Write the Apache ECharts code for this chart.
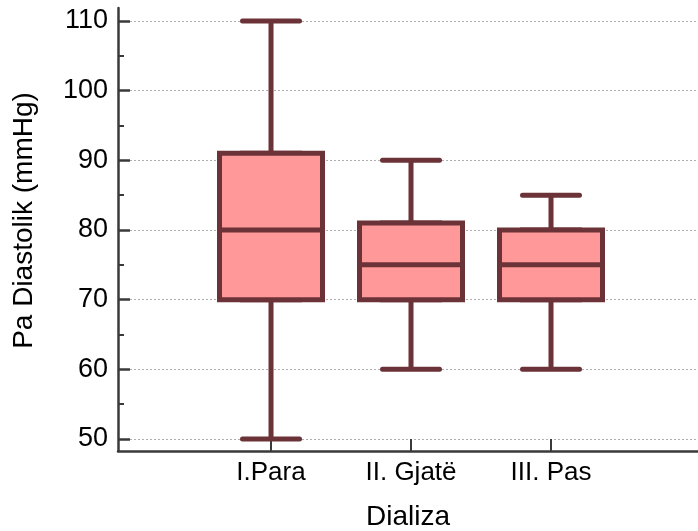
<!DOCTYPE html>
<html>
<head>
<meta charset="utf-8">
<script src="https://cdn.jsdelivr.net/npm/echarts@6/dist/echarts.min.js"></script>
<style>html,body{margin:0;padding:0;background:#fff;}#c{width:698px;height:531px;}</style>
</head>
<body>
<div id="c"></div>
<script>
var categories = ['I.Para', 'II. Gjatë', 'III. Pas'];
var positions = [1, 2, 3];
var mins = [50, 60, 60];
var q1s = [70, 70, 70];
var medians = [80, 75, 75];
var q3s = [91, 81, 80];
var maxs = [110, 90, 85];
var yTicks = [50, 60, 70, 80, 90, 100, 110];
var yMinorTicks = [55, 65, 75, 85, 95, 105];

// whiskers (narrow caps) and boxes (wide) built from the arrays above
var whiskerData = positions.map(function (p, i) {
  return [p, mins[i], q1s[i], medians[i], q3s[i], maxs[i]];
});
var boxData = positions.map(function (p, i) {
  return [p, q1s[i], q1s[i], medians[i], q3s[i], q3s[i]];
});

var font = 'Liberation Sans, Arial, sans-serif';
var fs = 27;
var nameFs = 28;
var axisColor = '#3a3a3a';
var boxFill = '#ff9999';
var boxStroke = '#6b3237';

function xAxisCfg(visible) {
  return {
    type: 'value',
    min: -0.093,
    max: 4.05,
    show: visible,
    name: visible ? 'Dializa' : '',
    nameLocation: 'middle',
    nameGap: 52,
    nameTextStyle: {fontFamily: font, fontSize: nameFs, color: '#000'},
    axisLine: {show: visible, onZero: false, lineStyle: {color: axisColor, width: 2.5}},
    axisTick: {show: visible, inside: true, length: 12, customValues: positions, lineStyle: {color: axisColor, width: 2}},
    axisLabel: {
      show: visible,
      customValues: positions,
      margin: 9,
      fontFamily: font, fontSize: 26, color: '#000',
      formatter: function (v) { var i = positions.indexOf(v); return i >= 0 ? categories[i] : ''; }
    },
    splitLine: {show: false}
  };
}

var chart = echarts.init(document.getElementById('c'), null, {renderer: 'canvas'});
chart.setOption({
  animation: false,
  backgroundColor: '#fff',
  grid: {left: 118, right: 0, top: 8, bottom: 80, containLabel: false, outerBoundsMode: 'none'},
  xAxis: [xAxisCfg(true), xAxisCfg(false)],
  yAxis: [{
    type: 'value',
    min: 48.27,
    max: 111.87,
    name: 'Pa Diastolik (mmHg)',
    nameLocation: 'middle',
    nameGap: 80,
    nameTextStyle: {fontFamily: font, fontSize: nameFs, color: '#000', padding: [0, 0, 0, 18]},
    axisLine: {show: true, onZero: false, lineStyle: {color: axisColor, width: 2.5}},
    axisTick: {show: true, inside: true, length: 12, customValues: yTicks, lineStyle: {color: axisColor, width: 2.5}},
    axisLabel: {customValues: yTicks, margin: 10, fontFamily: font, fontSize: fs, color: '#000'},
    splitLine: {show: true, lineStyle: {color: '#b0b0b0', type: [2, 2], width: 1}}
  }, {
    type: 'value',
    min: 48.27,
    max: 111.87,
    position: 'left',
    axisLine: {show: false, onZero: false},
    axisTick: {show: true, inside: true, length: 6, customValues: yMinorTicks, lineStyle: {color: axisColor, width: 2}},
    axisLabel: {show: false},
    splitLine: {show: false}
  }],
  series: [{
    type: 'boxplot',
    xAxisIndex: 0,
    yAxisIndex: 0,
    data: whiskerData,
    boxWidth: [57, 57],
    itemStyle: {color: boxFill, borderColor: boxStroke, borderWidth: 5, borderCap: 'round'},
    emphasis: {disabled: true},
    z: 2
  }, {
    type: 'boxplot',
    xAxisIndex: 1,
    yAxisIndex: 0,
    data: boxData,
    boxWidth: [103, 103],
    itemStyle: {color: boxFill, borderColor: boxStroke, borderWidth: 5},
    emphasis: {disabled: true},
    z: 3
  }]
});
</script>
</body>
</html>
